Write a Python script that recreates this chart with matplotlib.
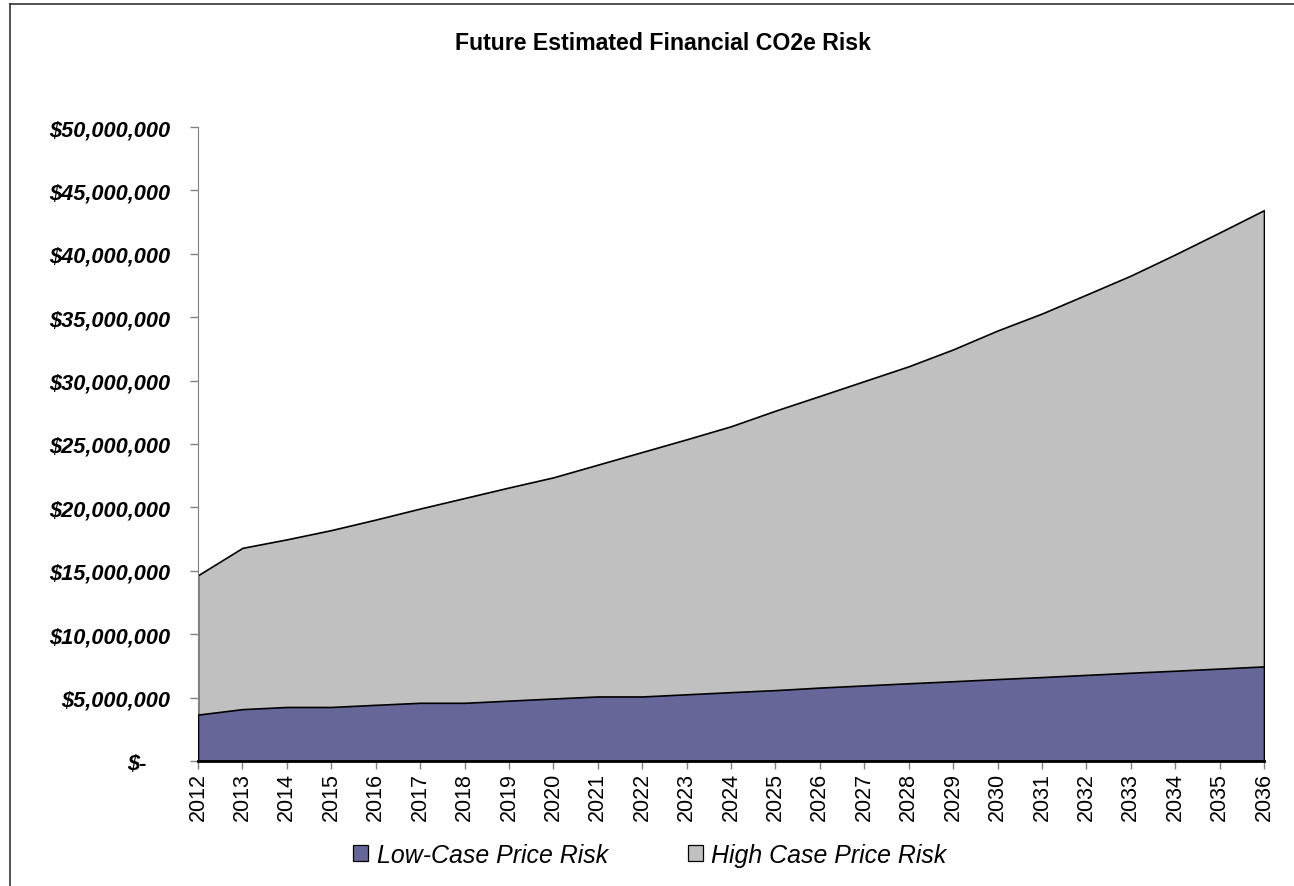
import numpy as np
import matplotlib.pyplot as plt
from matplotlib.patches import Patch
from matplotlib.lines import Line2D
from matplotlib.ticker import FuncFormatter

# values (USD)
years = list(range(2012, 2037))
high_case = [14.65, 16.81, 17.48, 18.21, 19.04, 19.91, 20.74, 21.57, 22.37, 23.37,
             24.37, 25.37, 26.40, 27.63, 28.79, 29.96, 31.13, 32.46, 33.95, 35.29,
             36.78, 38.28, 39.95, 41.68, 43.44]
low_case = [3.66, 4.09, 4.26, 4.26, 4.43, 4.59, 4.59, 4.76, 4.93, 5.09,
            5.09, 5.26, 5.43, 5.59, 5.79, 5.96, 6.13, 6.29, 6.46, 6.62,
            6.79, 6.96, 7.12, 7.29, 7.46]
high_case = [v * 1e6 for v in high_case]
low_case = [v * 1e6 for v in low_case]

title = "Future Estimated Financial CO2e Risk"
series_names = ["Low-Case Price Risk", "High Case Price Risk"]
low_color = "#666699"
high_color = "#C0C0C0"

plt.rcParams['font.family'] = ['Liberation Sans', 'DejaVu Sans']

W, H = 1294, 887
fig = plt.figure(figsize=(W / 100, H / 100), dpi=100)
ax = fig.add_axes([198 / W, 1 - 762 / H, 1066 / W, 634 / H])

# high case drawn behind, low case in front
ax.fill_between(years, 0, high_case, facecolor=high_color, edgecolor='black', linewidth=1.2, zorder=2)
ax.fill_between(years, 0, low_case, facecolor=low_color, edgecolor='black', linewidth=1.2, zorder=3)
ax.axhline(0, color='black', linewidth=2, zorder=4)

ax.set_xlim(years[0], years[-1])
ax.set_ylim(0, 50e6)
ax.set_xticks(years)
ax.set_xticklabels([str(y) for y in years], rotation=90, fontsize=15.5)
ax.set_yticks(np.arange(0, 50e6 + 1, 5e6))


def money(v, pos):
    if v == 0:
        return "$-    "
    return "${:,.0f}".format(v)


ax.yaxis.set_major_formatter(FuncFormatter(money))
for lbl in ax.get_yticklabels():
    lbl.set_fontweight('bold')
    lbl.set_fontstyle('italic')
    lbl.set_fontsize(15.7)

ax.tick_params(axis='y', length=6, width=1, color='#808080', pad=14)
ax.tick_params(axis='x', length=6, width=1, color='#808080', pad=2)

for side in ['top', 'right']:
    ax.spines[side].set_visible(False)
ax.spines['left'].set_color('#808080')
ax.spines['bottom'].set_color('black')
ax.spines['bottom'].set_linewidth(2)

fig.text(663 / W, 1 - 43 / H, title, ha='center', va='center', fontsize=16.7, fontweight='bold')

# outer chart border (only top and left edges visible)
fig.add_artist(Line2D([10 / W, 10 / W], [1 - 5 / H, 0], transform=fig.transFigure, color='#333333', linewidth=1.2))
fig.add_artist(Line2D([10 / W, 1], [1 - 5 / H, 1 - 5 / H], transform=fig.transFigure, color='#333333', linewidth=1.2))

handles = [Patch(facecolor=low_color, edgecolor='black', linewidth=0.9),
           Patch(facecolor=high_color, edgecolor='black', linewidth=0.9)]
fig.legend(handles, series_names, loc='center', bbox_to_anchor=(650 / W, 1 - 856 / H), ncol=2,
           frameon=False, prop={'style': 'italic', 'size': 17.9}, handlelength=0.6, handleheight=0.6,
           handletextpad=0.35, columnspacing=3.2)

fig.savefig('out.png', dpi=100)
